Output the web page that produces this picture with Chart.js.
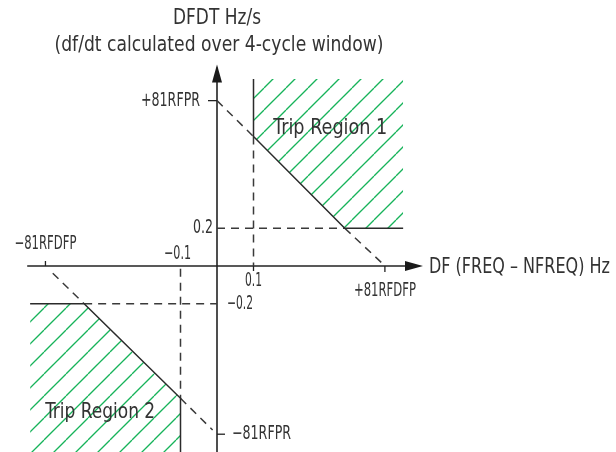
<!DOCTYPE html>
<html>
<head>
<meta charset="utf-8">
<script src="https://cdn.jsdelivr.net/npm/chart.js@4/dist/chart.umd.min.js"></script>
<style>
  html, body { margin: 0; padding: 0; background: #ffffff; }
  #wrap { width: 616px; height: 452px; position: relative; }
</style>
</head>
<body>
<div id="wrap"><canvas id="c"></canvas></div>
<script>
// ---- Data ----
// axis titles
const yTitleLines = ['DFDT Hz/s', '(df/dt calculated over 4-cycle window)'];
const xTitle = 'DF (FREQ – NFREQ) Hz';
// tick positions (DF, Hz) and labels
const dfTicks = [-0.47, -0.1, 0.1, 0.46];
const dfTickLabels = ['−81RFDFP', '−0.1', '0.1', '+81RFDFP'];
// tick positions (DFDT, Hz/s) and labels
const dfdtTicks = [0.875, 0.2, -0.2, -0.89];
const dfdtTickLabels = ['+81RFPR', '0.2', '−0.2', '−81RFPR'];
// trip region 1 boundary (solid), hatched up to its top
const region1X = [0.1, 0.1, 0.35, 0.51];
const region1Y = [0.99, 0.685, 0.2, 0.2];
const region1Top = 0.99;
// trip region 2 boundary (solid), hatched down to the bottom
const region2X = [-0.512, -0.364, -0.1, -0.1];
const region2Y = [-0.2, -0.2, -0.70, -1.2];
const region2Bottom = -1.2;
// dashed construction lines
const dashUpperSlopeA_X = [0.0, 0.1];     const dashUpperSlopeA_Y = [0.875, 0.685];
const dashUpperSlopeB_X = [0.35, 0.455];  const dashUpperSlopeB_Y = [0.2, 0.01];
const dashLowerSlopeA_X = [-0.45, -0.364]; const dashLowerSlopeA_Y = [-0.038, -0.2];
const dashLowerSlopeB_X = [-0.1, -0.012]; const dashLowerSlopeB_Y = [-0.70, -0.868];
const dashV1_X = [0.1, 0.1];    const dashV1_Y = [0.685, 0.0];
const dashH1_X = [0.0, 0.35];   const dashH1_Y = [0.2, 0.2];
const dashV2_X = [-0.1, -0.1];  const dashV2_Y = [-0.015, -0.70];
const dashH2_X = [-0.364, 0.0]; const dashH2_Y = [-0.2, -0.2];
// axes extents
const xAxisX = [-0.52, 0.515];  const xAxisY = [0, 0];
const yAxisX = [0, 0];          const yAxisY = [-1.2, 1.05];
const regionLabels = ['Trip Region 1', 'Trip Region 2'];
const regionLabelX = [0.305, -0.32];
const regionLabelY = [0.728, -0.775];

// ---- helpers ----
const pts = (xs, ys) => xs.map((x, i) => ({ x: x, y: ys[i] }));
const INK = '#2b2b2b';
const TXT = '#333333';
const FONT = '"DejaVu Sans Condensed", "Liberation Sans Narrow", "Roboto", sans-serif';

function hatchPattern() {
  const s = 22;
  const c = document.createElement('canvas');
  c.width = s; c.height = s;
  const g = c.getContext('2d');
  g.strokeStyle = '#17b35a';
  g.lineWidth = 1.3;
  for (const k of [-s, 0, s]) {
    g.beginPath();
    g.moveTo(k, s);
    g.lineTo(k + s, 0);
    g.stroke();
  }
  return g.createPattern(c, 'repeat');
}
const hatch = hatchPattern();

function lineDs(data, opts) {
  return Object.assign({
    data: data, showLine: true, pointRadius: 0, borderColor: INK,
    borderWidth: 1.5, fill: false, tension: 0
  }, opts || {});
}
const dash = { borderDash: [8, 6], borderColor: '#3a3a3a', borderWidth: 1.5 };

const datasets = [
  lineDs(pts(region1X, region1Y), { fill: { value: region1Top }, backgroundColor: hatch }),
  lineDs(pts(region2X, region2Y), { fill: { value: region2Bottom }, backgroundColor: hatch }),
  lineDs(pts(dashUpperSlopeA_X, dashUpperSlopeA_Y), dash),
  lineDs(pts(dashUpperSlopeB_X, dashUpperSlopeB_Y), dash),
  lineDs(pts(dashLowerSlopeA_X, dashLowerSlopeA_Y), dash),
  lineDs(pts(dashLowerSlopeB_X, dashLowerSlopeB_Y), dash),
  lineDs(pts(dashV1_X, dashV1_Y), dash),
  lineDs(pts(dashH1_X, dashH1_Y), dash),
  lineDs(pts(dashV2_X, dashV2_Y), dash),
  lineDs(pts(dashH2_X, dashH2_Y), dash),
  lineDs(pts(xAxisX, xAxisY), { borderColor: '#222', borderWidth: 1.6 }),
  lineDs(pts(yAxisX, yAxisY), { borderColor: '#222', borderWidth: 1.6 })
];

// scale ranges chosen so the origin sits where it does in the reference
const X_PER_PX = 1 / 365, Y_PER_PX = 1 / 189;
const xMin = -217 * X_PER_PX, xMax = (616 - 217) * X_PER_PX;
const yMax = 266 * Y_PER_PX, yMin = -(452 - 266) * Y_PER_PX;

const annotate = {
  id: 'annotate',
  afterDatasetsDraw(chart) {
    const ctx = chart.ctx;
    const xs = chart.scales.x, ys = chart.scales.y;
    const X = v => xs.getPixelForValue(v), Y = v => ys.getPixelForValue(v);
    const ox = X(0), oy = Y(0);
    const txt = (s, x, y, w) => ctx.fillText(s, x, y, w);
    ctx.save();
    // arrow heads
    ctx.fillStyle = '#1a1a1a';
    const yTip = Y(yAxisY[1]);
    ctx.beginPath();
    ctx.moveTo(ox, yTip - 3);
    ctx.lineTo(ox - 5, yTip + 15);
    ctx.lineTo(ox + 5, yTip + 15);
    ctx.closePath(); ctx.fill();
    const xTip = X(xAxisX[1]);
    ctx.beginPath();
    ctx.moveTo(xTip + 18, oy);
    ctx.lineTo(xTip, oy - 5);
    ctx.lineTo(xTip, oy + 5);
    ctx.closePath(); ctx.fill();

    // tick marks
    ctx.strokeStyle = '#222'; ctx.lineWidth = 1.3;
    const tk = (x1, y1, x2, y2) => { ctx.beginPath(); ctx.moveTo(x1, y1); ctx.lineTo(x2, y2); ctx.stroke(); };
    tk(X(dfTicks[0]), oy, X(dfTicks[0]), oy - 5);
    tk(X(dfTicks[2]), oy, X(dfTicks[2]), oy + 5);
    tk(X(dfTicks[3]), oy, X(dfTicks[3]), oy + 6);
    tk(ox, Y(dfdtTicks[0]), ox - 9, Y(dfdtTicks[0]));
    tk(ox, Y(dfdtTicks[3]), ox + 8, Y(dfdtTicks[3]));

    // tick labels
    ctx.fillStyle = TXT;
    ctx.font = '19px ' + FONT;
    ctx.textBaseline = 'middle';
    ctx.textAlign = 'center';
    txt(dfTickLabels[0], X(dfTicks[0]), oy - 22, 62);
    txt(dfTickLabels[1], X(dfTicks[1]) - 3, oy - 12, 27);
    txt(dfTickLabels[2], X(dfTicks[2]), oy + 15, 17);
    txt(dfTickLabels[3], X(dfTicks[3]), oy + 25, 62);
    ctx.textAlign = 'right';
    txt(dfdtTickLabels[0], ox - 17, Y(dfdtTicks[0]), 59);
    txt(dfdtTickLabels[1], ox - 4, Y(dfdtTicks[1]), 20);
    ctx.textAlign = 'left';
    txt(dfdtTickLabels[2], ox + 10, Y(dfdtTicks[2]), 26);
    txt(dfdtTickLabels[3], ox + 15, Y(dfdtTicks[3]), 59);

    // axis titles
    ctx.font = '22px ' + FONT;
    ctx.textAlign = 'left';
    txt(xTitle, xTip + 24, oy + 1, 181);
    ctx.textAlign = 'center';
    txt(yTitleLines[0], ox, 18, 88);
    txt(yTitleLines[1], ox + 2, 45, 329);

    // region labels
    ctx.font = '22px ' + FONT;
    txt(regionLabels[0], X(regionLabelX[0]) + 2, Y(regionLabelY[0]), 114);
    txt(regionLabels[1], X(regionLabelX[1]), Y(regionLabelY[1]), 110);
    ctx.restore();
  }
};

new Chart(document.getElementById('c'), {
  type: 'scatter',
  data: { datasets: datasets },
  options: {
    responsive: true,
    maintainAspectRatio: false,
    animation: false,
    layout: { padding: 0 },
    plugins: { legend: { display: false }, tooltip: { enabled: false } },
    scales: {
      x: { type: 'linear', display: false, min: xMin, max: xMax },
      y: { type: 'linear', display: false, min: yMin, max: yMax }
    }
  },
  plugins: [annotate]
});
</script>
</body>
</html>
